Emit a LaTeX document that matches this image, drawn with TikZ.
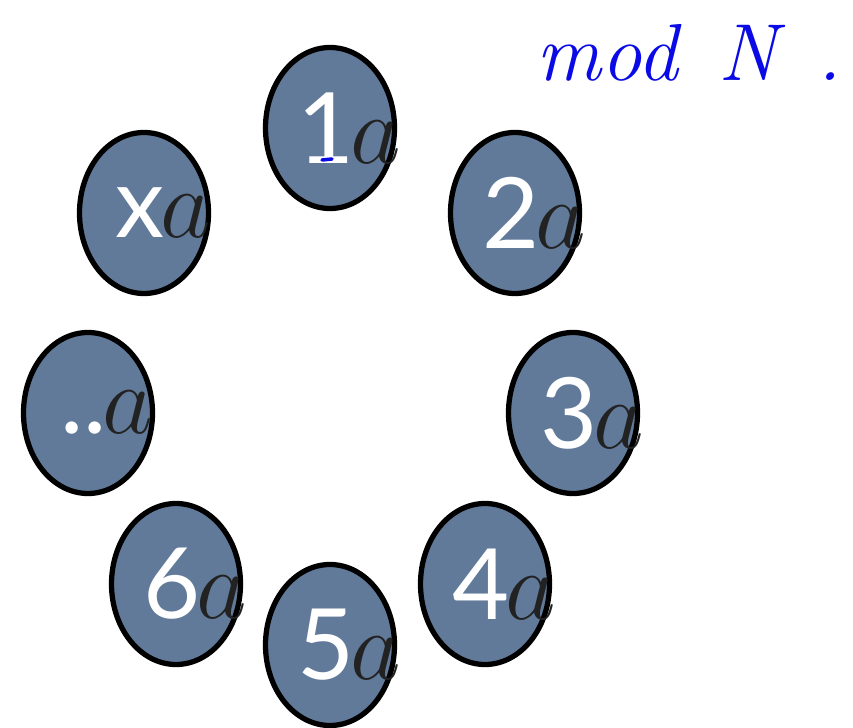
\RequirePackage{fix-cm}
\documentclass[tikz,border=0pt]{standalone}
\usepackage{fontspec}
\usepackage{tikz}
\usetikzlibrary{shapes.geometric}
\newfontfamily\digitfont{Lato}
\definecolor{coinfill}{HTML}{617A99}
\definecolor{ink}{HTML}{0A0AE6}
\definecolor{letter}{HTML}{222222}

\tikzset{
  coin/.style={ellipse, draw=black, line width=3pt, fill=coinfill,
    minimum width=2.58cm, minimum height=3.22cm, inner sep=0pt},
  coinlabel/.style={inner sep=0pt, font=\fontsize{56}{56}\selectfont}
}

\begin{document}
\begin{tikzpicture}
  \useasboundingbox (0,0) rectangle (17.06,-14.56);
  % the ring of multiples
  \foreach \nm/\x/\y/\lbl in {1/6.60/-2.56/1, 2/10.30/-4.26/2, 3/11.46/-8.26/3,
      4/9.70/-11.68/4, 5/6.60/-12.90/5, 6/3.52/-11.68/6, d/1.76/-8.26/.., x/2.88/-4.26/x} {
    \node[coin] (c\nm) at (\x,\y) {};
    \node[coinlabel] (l\nm) at ([xshift=0.38cm]c\nm.center)
      {{\digitfont\color{white}\lbl}\kern-0.04em\textcolor{letter}{$a$}};
  }
  % handwritten note
  \node[text=ink, font=\fontsize{46}{46}\selectfont\itshape] (modN) at (13.78,-1.05)
    {mod\enspace N\enspace .};
  \draw[ink, line width=2pt, line cap=round] (6.44,-3.20) -- (6.64,-3.18);
\end{tikzpicture}
\end{document}
